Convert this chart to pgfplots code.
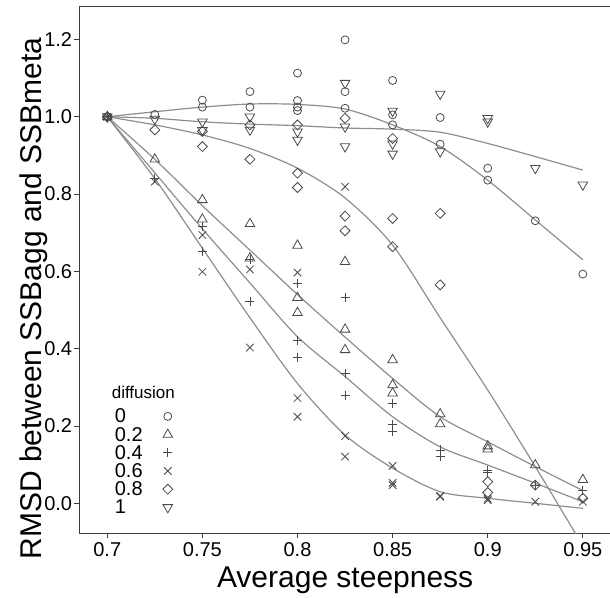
\documentclass[border=0pt]{standalone}
\usepackage{pgfplots}
\pgfplotsset{compat=1.18}
\usepackage{fontspec}
\setmainfont{Liberation Sans}

\definecolor{markgray}{HTML}{4A4A4A}
\definecolor{fitgray}{HTML}{8E8E8E}
\definecolor{framegray}{HTML}{3C3C3C}

% replicate runs, one table per diffusion level
\pgfplotstableread{
x y
0.7 1.0
0.725 1.006
0.75 1.043
0.75 1.025
0.775 1.065
0.775 1.025
0.8 1.113
0.8 1.042
0.8 1.025
0.8 1.016
0.825 1.199
0.825 1.065
0.825 1.022
0.85 1.094
0.85 1.005
0.85 0.979
0.875 0.998
0.875 0.929
0.9 0.867
0.9 0.836
0.925 0.731
0.95 0.593
}\dzero
\pgfplotstableread{
x y
0.7 1.0
0.725 0.890
0.75 0.785
0.75 0.735
0.775 0.723
0.775 0.634
0.8 0.667
0.8 0.532
0.8 0.493
0.825 0.625
0.825 0.450
0.825 0.397
0.85 0.371
0.85 0.306
0.85 0.285
0.875 0.231
0.875 0.205
0.9 0.148
0.9 0.140
0.925 0.099
0.95 0.061
}\dtwo
\pgfplotstableread{
x y
0.7 1.0
0.725 0.841
0.75 0.717
0.75 0.651
0.775 0.630
0.775 0.522
0.8 0.569
0.8 0.421
0.8 0.378
0.825 0.533
0.825 0.335
0.825 0.280
0.85 0.259
0.85 0.203
0.85 0.185
0.875 0.138
0.875 0.121
0.9 0.086
0.9 0.080
0.925 0.047
0.95 0.033
}\dfour
\pgfplotstableread{
x y
0.7 1.0
0.725 0.832
0.75 0.694
0.75 0.599
0.775 0.605
0.775 0.403
0.8 0.597
0.8 0.272
0.8 0.224
0.825 0.819
0.825 0.174
0.825 0.121
0.85 0.097
0.85 0.053
0.85 0.047
0.875 0.019
0.875 0.017
0.9 0.012
0.9 0.008
0.925 0.004
0.95 0.004
}\dsix
\pgfplotstableread{
x y
0.7 1.0
0.725 0.966
0.75 0.962
0.75 0.923
0.775 0.979
0.775 0.890
0.8 0.979
0.8 0.854
0.8 0.817
0.825 0.996
0.825 0.743
0.825 0.705
0.85 0.944
0.85 0.737
0.85 0.664
0.875 0.750
0.875 0.565
0.9 0.056
0.9 0.028
0.925 0.047
0.95 0.013
}\deight
\pgfplotstableread{
x y
0.7 1.0
0.725 0.994
0.75 0.987
0.75 0.965
0.775 1.000
0.775 0.966
0.8 0.961
0.8 0.940
0.825 1.087
0.825 0.974
0.825 0.923
0.85 1.015
0.85 0.930
0.85 0.904
0.875 1.059
0.875 0.910
0.9 0.996
0.9 0.987
0.925 0.867
0.95 0.824
}\dten

\begin{document}
\begin{tikzpicture}
\begin{axis}[
  at={(0pt,0pt)}, anchor=south west,
  scale only axis, width=531.7pt, height=526pt,
  xmin=0.6853, xmax=0.9648, ymin=-0.0768, ymax=1.284,
  axis line style={framegray, line width=1pt},
  tick style={framegray, line width=0.8pt},
  tick align=outside, major tick length=5pt,
  xtick pos=lower, ytick pos=left,
  xtick={0.7,0.75,0.8,0.85,0.9,0.95},
  xticklabels={0.7,0.75,0.8,0.85,0.9,0.95},
  ytick={0,0.2,0.4,0.6,0.8,1.0,1.2},
  yticklabels={0.0,0.2,0.4,0.6,0.8,1.0,1.2},
  tick label style={font=\fontsize{20}{20}\selectfont, black},
  xticklabel style={inner sep=4pt},
  yticklabel style={inner sep=2pt},
  xlabel={Average steepness},
  ylabel={RMSD between SSBagg and SSBmeta},
  label style={font=\fontsize{30}{30}\selectfont, black},
  xlabel style={at={(axis description cs:0.5,-0.1027)}, anchor=base},
  ylabel style={at={(axis description cs:-0.072,0.4458)}, anchor=base},
  legend plot pos=right,
  legend cell align=left,
  legend style={at={(axis cs:0.7023,0.25)}, anchor=north west,
    draw=none, fill=none, font=\fontsize{20}{20}\selectfont,
    row sep=3.2pt, column sep=18pt,
    nodes={inner sep=0pt, text height=14pt, text depth=1pt, text width=30pt, align=left}},
  pt/.style={only marks, color=markgray, mark options={line width=0.8pt},
    legend image code/.code={\draw[##1] plot coordinates {(0pt,0pt)};}},
  fit/.style={fitgray, line width=1.2pt, smooth, tension=0.5, no marks, forget plot},
]
% loess-type fits
\addplot[fit] coordinates {(0.7,1.0)(0.725,1.013)(0.75,1.025)(0.775,1.033)(0.8,1.032)(0.825,1.02)(0.85,0.979)(0.875,0.923)(0.9,0.836)(0.925,0.733)(0.95,0.63)};
\addplot[fit] coordinates {(0.7,1.0)(0.725,0.89)(0.75,0.77)(0.775,0.655)(0.8,0.54)(0.825,0.43)(0.85,0.323)(0.875,0.224)(0.9,0.159)(0.925,0.095)(0.95,0.033)};
\addplot[fit] coordinates {(0.7,1.0)(0.725,0.855)(0.75,0.71)(0.775,0.57)(0.8,0.431)(0.825,0.328)(0.85,0.224)(0.875,0.146)(0.9,0.099)(0.925,0.052)(0.95,0.004)};
\addplot[fit] coordinates {(0.7,1.0)(0.725,0.84)(0.75,0.66)(0.775,0.48)(0.8,0.31)(0.825,0.177)(0.85,0.091)(0.875,0.03)(0.9,0.013)(0.925,0.0)(0.95,-0.013)};
\addplot[fit] coordinates {(0.7,1.0)(0.725,0.979)(0.75,0.953)(0.775,0.918)(0.8,0.867)(0.825,0.79)(0.85,0.668)(0.875,0.48)(0.9,0.293)(0.925,0.095)(0.95,-0.11)};
\addplot[fit] coordinates {(0.7,1.0)(0.725,0.996)(0.75,0.987)(0.775,0.981)(0.8,0.977)(0.825,0.971)(0.85,0.968)(0.875,0.96)(0.9,0.931)(0.925,0.897)(0.95,0.862)};

% replicate points
\addplot[pt, mark=o, mark size=4pt] table {\dzero};
\addlegendentry{0}
\addplot[pt, mark=triangle, mark size=5.5pt] table {\dtwo};
\addlegendentry{0.2}
\addplot[pt, mark=+, mark size=4.5pt] table {\dfour};
\addlegendentry{0.4}
\addplot[pt, mark=x, mark size=5.3pt] table {\dsix};
\addlegendentry{0.6}
\addplot[pt, mark=square, mark size=3.5pt, mark options={rotate=45, line width=0.8pt}] table {\deight};
\addlegendentry{0.8}
\addplot[pt, mark=triangle, mark size=5.5pt, mark options={rotate=180, line width=0.8pt}] table {\dten};
\addlegendentry{1}

\node[anchor=base west, inner sep=0pt, font=\fontsize{17}{17}\selectfont] at (axis cs:0.7023,0.2717) {diffusion};
\end{axis}
\pgfresetboundingbox
\useasboundingbox (-79.3pt,-64pt) rectangle (530.7pt,533pt);
\end{tikzpicture}
\end{document}
